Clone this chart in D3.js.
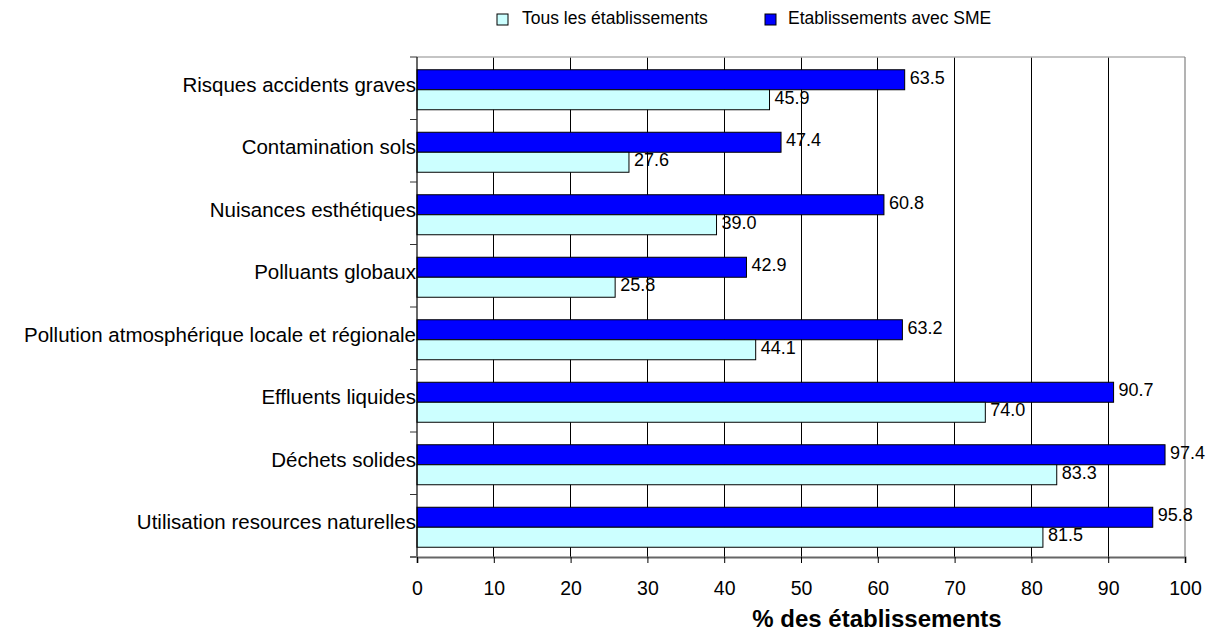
<!DOCTYPE html>
<html><head><meta charset="utf-8">
<script src="https://cdn.jsdelivr.net/npm/d3@7"></script>
<style>body{margin:0;background:#fff;} text{font-family:Arial,"Liberation Sans",sans-serif;fill:#000;}</style>
</head><body>
<svg id="c" width="1209" height="634"></svg>
<script>
const categories = ["Risques accidents graves","Contamination sols","Nuisances esthétiques","Polluants globaux","Pollution atmosphérique locale et régionale","Effluents liquides","Déchets solides","Utilisation resources naturelles"];
const seriesNames = ["Etablissements avec SME","Tous les établissements"];
const sme = [63.5,47.4,60.8,42.9,63.2,90.7,97.4,95.8];
const tous = [45.9,27.6,39.0,25.8,44.1,74.0,83.3,81.5];
const xTicks = [0,10,20,30,40,50,60,70,80,90,100];
const colors = {"Etablissements avec SME":"#0000ff","Tous les établissements":"#ccffff"};

const svg = d3.select("#c");
const L=417, R=1185, T=57, B=557;
const x = d3.scaleLinear().domain([0,100]).range([L,R]);
const y = d3.scaleBand().domain(categories).range([T,B]).paddingInner(0).paddingOuter(0);
const inner = d3.scaleBand().domain(seriesNames).range([0,y.bandwidth()]).paddingInner(0).paddingOuter(0.5625);

// gridlines
svg.append("g").selectAll("line").data(xTicks.filter(d=>d>0&&d<100)).join("line")
  .attr("x1",d=>x(d)).attr("x2",d=>x(d)).attr("y1",T).attr("y2",B)
  .attr("stroke","#000").attr("stroke-width",1).attr("shape-rendering","crispEdges");
// top & right border
svg.append("line").attr("x1",L).attr("x2",R).attr("y1",T).attr("y2",T).attr("stroke","#b0b0b0").attr("stroke-width",1.5);
svg.append("line").attr("x1",R).attr("x2",R).attr("y1",T).attr("y2",B).attr("stroke","#808080").attr("stroke-width",1.2);

// bars
const rows = categories.map((c,i)=>({c, vals:[{s:seriesNames[0],v:sme[i]},{s:seriesNames[1],v:tous[i]}]}));
const g = svg.append("g").selectAll("g").data(rows).join("g").attr("transform",d=>`translate(0,${y(d.c)+1.5})`);
g.selectAll("rect").data(d=>d.vals).join("rect")
  .attr("x",x(0)).attr("y",d=>inner(d.s)).attr("width",d=>x(d.v)-x(0)).attr("height",inner.bandwidth())
  .attr("fill",d=>colors[d.s]).attr("stroke","#000").attr("stroke-width",1);
g.selectAll("text").data(d=>d.vals).join("text")
  .attr("x",d=>x(d.v)+5).attr("y",d=>inner(d.s)+inner.bandwidth()/2+4)
  .attr("font-size",18).text(d=>d.v.toFixed(1));

// y axis
const ya = svg.append("g");
ya.append("line").attr("x1",L).attr("x2",L).attr("y1",T).attr("y2",B).attr("stroke","#000").attr("stroke-width",1.2);
ya.selectAll("line.t").data(d3.range(categories.length+1)).join("line").attr("class","t")
  .attr("x1",L-7).attr("x2",L).attr("y1",i=>T+i*y.step()).attr("y2",i=>T+i*y.step()).attr("stroke","#333");
ya.selectAll("text").data(categories).join("text")
  .attr("x",L-1).attr("y",d=>y(d)+y.bandwidth()/2+3.5).attr("text-anchor","end").attr("font-size",20.5).text(d=>d);

// x axis
svg.append("line").attr("x1",L-7).attr("x2",L).attr("y1",B).attr("y2",B).attr("stroke","#666").attr("stroke-width",2);
const xa = svg.append("g").attr("transform",`translate(0,${B})`).call(d3.axisBottom(x).tickValues(xTicks).tickSize(6).tickPadding(18));
xa.select(".domain").attr("stroke","#666").attr("stroke-width",2);
xa.selectAll(".tick line").attr("stroke","#000");
xa.selectAll(".tick text").attr("font-size",19.5).attr("font-family","Arial,'Liberation Sans',sans-serif");

svg.append("text").attr("x",877).attr("y",627).attr("text-anchor","middle").attr("font-size",24).attr("font-weight","bold").text("% des établissements");

// legend
const leg = [{s:"Tous les établissements",x:497,tx:522},{s:"Etablissements avec SME",x:765,tx:788}];
const lg = svg.append("g").selectAll("g").data(leg).join("g").attr("transform",d=>`translate(${d.x},0)`);
lg.append("rect").attr("width",11).attr("height",11).attr("y",14).attr("fill",d=>colors[d.s]).attr("stroke","#000");
lg.append("text").attr("x",d=>d.tx-d.x).attr("y",24).attr("font-size",17.5).text(d=>d.s);
</script>
</body></html>
